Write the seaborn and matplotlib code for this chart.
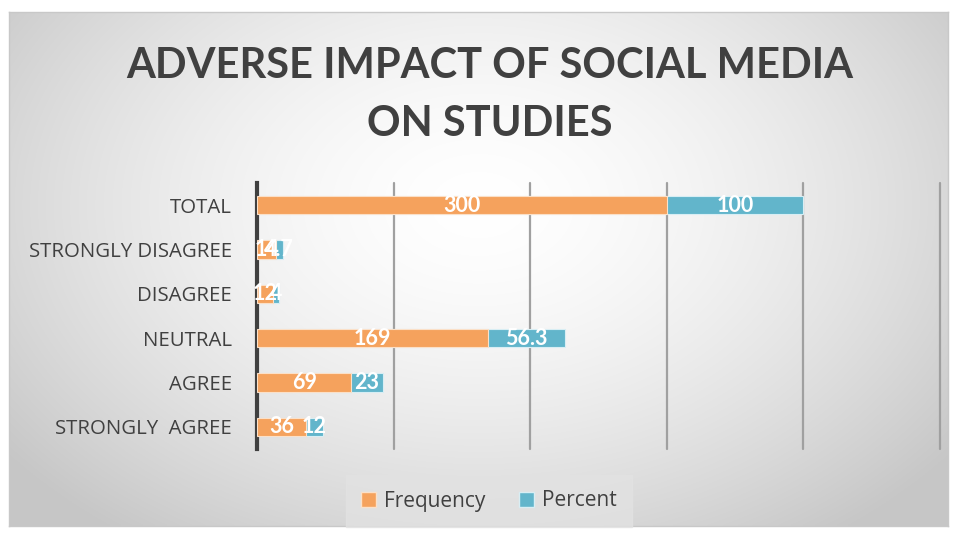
import numpy as np
import pandas as pd
import matplotlib
matplotlib.use("Agg")
import matplotlib.pyplot as plt
import seaborn as sns
from matplotlib.patches import Patch

categories = ["TOTAL", "STRONGLY DISAGREE", "DISAGREE", "NEUTRAL", "AGREE", "STRONGLY  AGREE"]
frequency = [300, 14, 12, 169, 69, 36]
percent = [100, 4.7, 4, 56.3, 23, 12]
series_names = ["Frequency", "Percent"]
x_ticks = [0, 100, 200, 300, 400, 500]
title_lines = ["ADVERSE IMPACT OF SOCIAL MEDIA", "ON STUDIES"]

ORANGE = "#F5A25D"
BLUE = "#62B5CB"
TEXT = "#404040"

sns.set_theme(style="white")
plt.rcParams["font.family"] = ["Open Sans", "DejaVu Sans"]

W, H = 957, 533
fig = plt.figure(figsize=(W / 100, H / 100), dpi=100, facecolor="white")

# background panel with radial gradient
bx0, by0, bx1, by1 = 9, 12, 948, 526
bg = fig.add_axes([bx0 / W, 1 - by1 / H, (bx1 - bx0) / W, (by1 - by0) / H], zorder=0)
yy, xx = np.mgrid[-1:1:200j, -1:1:400j]
r = np.sqrt((xx * 0.95) ** 2 + ((yy + 0.25) * 0.75) ** 2)
r = np.clip(r / 1.2, 0, 1)
vals = 1.0 - 0.22 * r ** 1.6
img = np.dstack([vals, vals, vals])
bg.imshow(img, aspect="auto", extent=[0, 1, 0, 1], interpolation="bilinear")
bg.set_xlim(0, 1)
bg.set_ylim(0, 1)
bg.set_xticks([])
bg.set_yticks([])
for s in bg.spines.values():
    s.set_color("#c8c8c8")
    s.set_linewidth(1.0)

df = pd.DataFrame({"category": categories, "Frequency": frequency, "Percent": percent})
df["cum"] = df["Frequency"] + df["Percent"]

ax = fig.add_axes([257 / W, 1 - 449 / H, (940 - 257) / W, (449 - 183) / H], zorder=1)
ax.set_facecolor("none")

sns.barplot(data=df, y="category", x="cum", order=categories, color=BLUE,
            saturation=1, width=0.42, ax=ax, edgecolor="#d8eef4", linewidth=0.8, zorder=2)
sns.barplot(data=df, y="category", x="Frequency", order=categories, color=ORANGE,
            saturation=1, width=0.42, ax=ax, edgecolor="#fbe0c8", linewidth=0.8, zorder=3)

cont_blue = ax.containers[0]
cont_or = ax.containers[1]
ax.bar_label(cont_or, labels=[f"{v:g}" for v in frequency], label_type="center",
             color="white", fontsize=15.5, fontweight="bold", family=["Lato", "DejaVu Sans"])
for bar, f, p in zip(cont_blue, frequency, percent):
    yc = bar.get_y() + bar.get_height() / 2
    ax.text(f + p / 2, yc, f"{p:g}", ha="center", va="center", color="white",
            fontsize=15.5, fontweight="bold", family=["Lato", "DejaVu Sans"], zorder=5)

ax.set_xlim(x_ticks[0], x_ticks[-1])
ax.set_xticks(x_ticks)
ax.set_xticklabels([])
ax.tick_params(axis="x", length=0)
ax.tick_params(axis="y", length=0, pad=18, labelsize=14.7, labelcolor=TEXT)
ax.set_xlabel("")
ax.set_ylabel("")
for x in x_ticks[1:]:
    ax.axvline(x, color="#a0a0a0", lw=1.6, zorder=1, clip_on=False)
for k in ["top", "right", "bottom"]:
    ax.spines[k].set_visible(False)
ax.spines["left"].set_color(TEXT)
ax.spines["left"].set_linewidth(3)

for line, yc in zip(title_lines, [63, 121]):
    fig.text(490 / W, 1 - yc / H, line, ha="center", va="center_baseline",
             fontsize=30, fontweight="bold", color=TEXT, family=["Lato", "DejaVu Sans"])

handles = [Patch(facecolor=ORANGE, edgecolor="#fbe0c8"), Patch(facecolor=BLUE, edgecolor="#d8eef4")]
leg = fig.legend(handles, series_names, loc="center", bbox_to_anchor=(489 / W, 1 - 501 / H),
                 ncol=2, frameon=True, handlelength=0.7, handleheight=0.7,
                 handletextpad=0.4, columnspacing=1.6, borderpad=0.75, fancybox=False,
                 prop={"family": ["Open Sans", "DejaVu Sans"], "size": 15})
leg.get_frame().set_facecolor("#e2e2e2")
leg.get_frame().set_edgecolor("#e2e2e2")
for t in leg.get_texts():
    t.set_color(TEXT)

fig.savefig("out.png", dpi=100, facecolor="white")
